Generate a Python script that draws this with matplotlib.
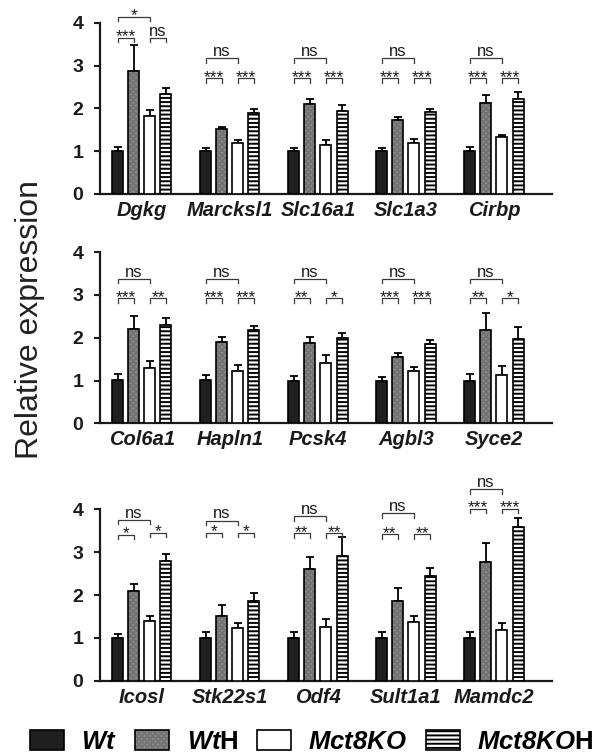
import matplotlib
matplotlib.use('Agg')
import matplotlib.pyplot as plt
from matplotlib.patches import Patch
import numpy as np

plt.rcParams['font.family'] = ['Liberation Sans', 'DejaVu Sans']
plt.rcParams['hatch.linewidth'] = 1.4
plt.rcParams['mathtext.fontset'] = 'custom'
plt.rcParams['mathtext.bf'] = 'Liberation Sans:bold'
try:
    plt.rcParams['mathtext.bfit'] = 'Liberation Sans:italic:bold'
except KeyError:
    pass

# ---------------- data ----------------
genes1 = ['Dgkg', 'Marcksl1', 'Slc16a1', 'Slc1a3', 'Cirbp']
wt1 = [1.0, 1.0, 1.0, 1.0, 1.0]
wt1_err = [0.10, 0.08, 0.08, 0.08, 0.10]
wth1 = [2.88, 1.51, 2.10, 1.73, 2.12]
wth1_err = [0.60, 0.06, 0.11, 0.06, 0.18]
ko1 = [1.81, 1.18, 1.14, 1.20, 1.32]
ko1_err = [0.14, 0.07, 0.12, 0.08, 0.05]
koh1 = [2.34, 1.89, 1.94, 1.91, 2.21]
koh1_err = [0.13, 0.10, 0.13, 0.08, 0.18]
sig1_left = ['***', '***', '***', '***', '***']
sig1_right = ['ns', '***', '***', '***', '***']
sig1_top = ['*', 'ns', 'ns', 'ns', 'ns']
h1_left = [3.64, 2.70, 2.70, 2.70, 2.70]
h1_right = [3.64, 2.70, 2.70, 2.70, 2.70]
h1_top = [4.14, 3.17, 3.17, 3.17, 3.17]

genes2 = ['Col6a1', 'Hapln1', 'Pcsk4', 'Agbl3', 'Syce2']
wt2 = [1.02, 1.02, 0.99, 0.99, 0.99]
wt2_err = [0.14, 0.12, 0.12, 0.10, 0.17]
wth2 = [2.21, 1.90, 1.875, 1.56, 2.19]
wth2_err = [0.29, 0.12, 0.145, 0.08, 0.38]
ko2 = [1.30, 1.23, 1.41, 1.23, 1.125]
ko2_err = [0.15, 0.14, 0.18, 0.08, 0.205]
koh2 = [2.29, 2.19, 1.99, 1.86, 1.98]
koh2_err = [0.16, 0.08, 0.13, 0.09, 0.27]
sig2_left = ['***', '***', '**', '***', '**']
sig2_right = ['**', '***', '*', '***', '*']
sig2_top = ['ns', 'ns', 'ns', 'ns', 'ns']
h2_left = [2.92, 2.92, 2.92, 2.92, 2.92]
h2_right = [2.92, 2.92, 2.92, 2.92, 2.92]
h2_top = [3.38, 3.38, 3.38, 3.38, 3.38]

genes3 = ['Icosl', 'Stk22s1', 'Odf4', 'Sult1a1', 'Mamdc2']
wt3 = [1.0, 1.0, 1.0, 1.0, 1.0]
wt3_err = [0.10, 0.13, 0.14, 0.14, 0.13]
wth3 = [2.10, 1.50, 2.60, 1.87, 2.76]
wth3_err = [0.16, 0.27, 0.29, 0.29, 0.45]
ko3 = [1.39, 1.24, 1.26, 1.37, 1.18]
ko3_err = [0.13, 0.11, 0.19, 0.13, 0.16]
koh3 = [2.79, 1.86, 2.92, 2.45, 3.58]
koh3_err = [0.17, 0.19, 0.44, 0.17, 0.23]
sig3_left = ['*', '*', '**', '**', '***']
sig3_right = ['*', '*', '**', '**', '***']
sig3_top = ['ns', 'ns', 'ns', 'ns', 'ns']
h3_left = [3.40, 3.46, 3.44, 3.42, 4.02]
h3_right = [3.45, 3.46, 3.44, 3.42, 4.02]
h3_top = [3.75, 3.74, 3.84, 3.91, 4.47]

yticks = [0, 1, 2, 3, 4]
legend_labels = [r'$\mathbfit{Wt}$', r'$\mathbfit{Wt}\mathbf{H}$',
                 r'$\mathbfit{Mct8KO}$', r'$\mathbfit{Mct8KO}\mathbf{H}$']
ylabel = 'Relative expression'

panels = [
    (genes1, wt1, wt1_err, wth1, wth1_err, ko1, ko1_err, koh1, koh1_err,
     sig1_left, sig1_right, sig1_top, h1_left, h1_right, h1_top),
    (genes2, wt2, wt2_err, wth2, wth2_err, ko2, ko2_err, koh2, koh2_err,
     sig2_left, sig2_right, sig2_top, h2_left, h2_right, h2_top),
    (genes3, wt3, wt3_err, wth3, wth3_err, ko3, ko3_err, koh3, koh3_err,
     sig3_left, sig3_right, sig3_top, h3_left, h3_right, h3_top),
]

# ---------------- style ----------------
C_WT = '#1f1f1f'
C_WTH = '#8c8c8c'
C_WTH_H = '#737373'
EDGE_LW = 1.2
BR_COLOR = '#3a3a3a'
TXT = '#1a1a1a'

fig = plt.figure(figsize=(5.98, 7.56), dpi=100)
bottoms = [0.7434, 0.4400, 0.0996]
AX_L, AX_W, AX_H = 0.1672, 0.756, 0.2266

step = 0.182
offs = np.array([-1.5, -0.5, 0.5, 1.5]) * step
bw = 0.125
drop = 0.10


def bracket(ax, x1, x2, y, label):
    ax.plot([x1, x1, x2, x2], [y - drop, y, y, y - drop], color=BR_COLOR,
            lw=0.9, clip_on=False, solid_joinstyle='miter', zorder=5)
    xc = (x1 + x2) / 2
    if label == 'ns':
        ax.annotate(label, xy=(xc, y), xytext=(0, 1.5), textcoords='offset points',
                    ha='center', va='baseline', fontsize=12, color=TXT,
                    annotation_clip=False)
    else:
        ax.annotate(label, xy=(xc, y), xytext=(0, -2.5), textcoords='offset points',
                    ha='center', va='baseline', fontsize=12.5, color=TXT,
                    annotation_clip=False)


for (genes, wt, wte, wth, wthe, ko, koe, koh, kohe,
     sl, sr, st, hl, hr, ht), b in zip(panels, bottoms):
    ax = fig.add_axes([AX_L, b, AX_W, AX_H])
    x = np.arange(len(genes))
    zeros = np.zeros(len(genes))
    # error bars (upper only)
    for off, v, e in [(offs[0], wt, wte), (offs[1], wth, wthe),
                      (offs[2], ko, koe), (offs[3], koh, kohe)]:
        ax.errorbar(x + off, v, yerr=[zeros, e], fmt='none', ecolor='black',
                    elinewidth=1.3, capsize=3, capthick=1.3, zorder=2)
    ax.bar(x + offs[0], wt, bw, color=C_WT, edgecolor='black', lw=EDGE_LW, zorder=3)
    ax.bar(x + offs[1], wth, bw, color=C_WTH, edgecolor=C_WTH_H, hatch='xxxxxx',
           lw=0, zorder=3)
    ax.bar(x + offs[1], wth, bw, fill=False, edgecolor='black', lw=EDGE_LW, zorder=4)
    ax.bar(x + offs[2], ko, bw, color='white', edgecolor='black', lw=EDGE_LW, zorder=3)
    ax.bar(x + offs[3], koh, bw, color='white', edgecolor='black', hatch='----',
           lw=EDGE_LW, zorder=3)

    for i in range(len(genes)):
        bracket(ax, x[i] + offs[0], x[i] + offs[1], hl[i], sl[i])
        bracket(ax, x[i] + offs[2], x[i] + offs[3], hr[i], sr[i])
        bracket(ax, x[i] + offs[0], x[i] + offs[2], ht[i], st[i])

    ax.set_xlim(-0.477, 4.66)
    ax.set_ylim(0, 4)
    for s in ['top', 'right']:
        ax.spines[s].set_visible(False)
    for s in ['left', 'bottom']:
        ax.spines[s].set_linewidth(1.6)
        ax.spines[s].set_color('#1a1a1a')
    ax.set_yticks(yticks)
    ax.set_yticklabels([str(t) for t in yticks], fontweight='bold', fontsize=14,
                       color=TXT)
    ax.tick_params(axis='y', length=4, width=1.5, pad=8, direction='out',
                   color='#1a1a1a')
    ax.set_xticks(x)
    ax.set_xticklabels(genes, fontstyle='italic', fontweight='bold', fontsize=14.5,
                       color=TXT)
    ax.tick_params(axis='x', length=0, pad=5)

fig.text(0.05, 0.577, ylabel, rotation=90, fontsize=23, ha='center', va='center',
         color='#222222')

handles = [
    Patch(facecolor=C_WT, edgecolor='black', lw=EDGE_LW),
    (Patch(facecolor=C_WTH, edgecolor=C_WTH_H, hatch='xxxxxx', lw=0),
     Patch(fill=False, edgecolor='black', lw=EDGE_LW)),
    Patch(facecolor='white', edgecolor='black', lw=EDGE_LW),
    Patch(facecolor='white', edgecolor='black', hatch='----', lw=EDGE_LW),
]
fig.legend(handles=handles, labels=legend_labels, loc='center',
           bbox_to_anchor=(0.521, 0.0185), ncol=4, frameon=False, fontsize=18.5,
           handlelength=1.32, handleheight=0.85, handletextpad=0.68,
           columnspacing=0.72, borderaxespad=0, borderpad=0)

fig.savefig('out.png', dpi=100)
